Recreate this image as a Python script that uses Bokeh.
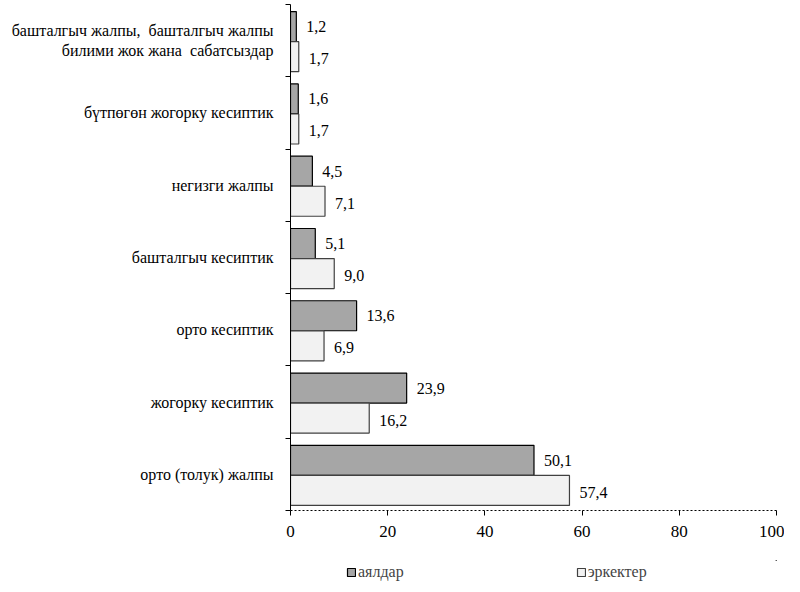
from bokeh.plotting import figure
from bokeh.layouts import column
from bokeh.models import (ColumnDataSource, LinearAxis, FixedTicker, Range1d,
                          LabelSet, Legend, LegendItem)
from bokeh.embed import file_html
from bokeh.resources import INLINE

categories = ["башталгыч жалпы,\u00a0 башталгыч жалпы\nбилими жок жана\u00a0 сабатсыздар",
              "бүтпөгөн жогорку кесиптик", "негизги жалпы", "башталгыч кесиптик",
              "орто кесиптик", "жогорку кесиптик", "орто (толук) жалпы"]
women = [1.2, 1.6, 4.5, 5.1, 13.6, 23.9, 50.1]
men = [1.7, 1.7, 7.1, 9.0, 6.9, 16.2, 57.4]
series_names = ["аялдар", "эркектер"]
x_ticks = [0, 20, 40, 60, 80, 100]

FONT = "Liberation Serif"
FS = "16px"
W_FILL, W_LINE = "#a6a6a6", "#000000"
M_FILL, M_LINE = "#f2f2f2", "#404040"
n = len(categories)
centers = [n - 1 - i + 0.5 for i in range(n)]

src_w = ColumnDataSource(dict(
    y=[c + 0.194 for c in centers], v=women,
    t=[f"{v:.1f}".replace(".", ",") for v in women]))
src_m = ColumnDataSource(dict(
    y=[c - 0.222 for c in centers], v=men,
    t=[f"{v:.1f}".replace(".", ",") for v in men]))

p = figure(frame_width=486, frame_height=506, output_backend="svg", toolbar_location=None,
           x_range=Range1d(0, 100), y_range=Range1d(0, n),
           min_border_left=290, min_border_right=8, min_border_top=4,
           min_border_bottom=50)
p.grid.visible = False
p.outline_line_color = None
p.background_fill_color = "white"

p.hbar(y="y", left=0, right="v", height=0.415, source=src_w,
       fill_color=W_FILL, line_color=W_LINE, line_width=1.2)
p.hbar(y="y", left=0, right="v", height=0.415, source=src_m,
       fill_color=M_FILL, line_color=M_LINE, line_width=1.2)

for s, yo in ((src_w, 0), (src_m, -2)):
    p.add_layout(LabelSet(x="v", y="y", text="t", source=s, x_offset=10, y_offset=yo,
                          text_align="left", text_baseline="middle",
                          text_font=FONT, text_font_size=FS, text_color="#000000"))

# x axis
xa = p.xaxis[0]
xa.ticker = FixedTicker(ticks=x_ticks)
xa.axis_line_dash = "2 2"
xa.axis_line_color = "#000000"
xa.major_tick_line_color = "#000000"
xa.major_tick_in = 0
xa.major_tick_out = 5
xa.minor_tick_line_color = None
xa.major_label_text_font = FONT
xa.major_label_text_font_size = "17px"
xa.major_label_text_color = "#000000"
xa.major_label_standoff = 10

# y axis with boundary ticks (no labels)
ya = p.yaxis[0]
ya.ticker = FixedTicker(ticks=list(range(n + 1)))
ya.major_label_text_color = None
ya.major_label_overrides = {i: "" for i in range(n + 1)}
ya.major_label_standoff = 0
ya.major_tick_in = 0
ya.major_tick_out = 5
ya.minor_tick_line_color = None
ya.axis_line_color = "#000000"
ya.major_tick_line_color = "#000000"

# category label axis
la = LinearAxis(ticker=FixedTicker(ticks=centers),
                major_label_overrides={c: lab for c, lab in zip(centers, categories)})
la.axis_line_color = None
la.major_tick_line_color = None
la.minor_tick_line_color = None
la.major_label_standoff = 6
la.major_label_text_font = FONT
la.major_label_text_font_size = FS
la.major_label_text_color = "#000000"
p.add_layout(la, "left")

# legend strip (separate small figure under the chart; its bars are out of view)
pl = figure(width=784, height=22, output_backend="svg", toolbar_location=None,
            x_range=Range1d(-1000, -900), y_range=Range1d(-10, -9),
            min_border=0, outline_line_color=None)
pl.axis.visible = False
pl.grid.visible = False
lw = pl.hbar(y="y", left=0, right="v", height=0.415, source=src_w,
             fill_color=W_FILL, line_color=W_LINE, line_width=1.2)
lm = pl.hbar(y="y", left=0, right="v", height=0.415, source=src_m,
             fill_color=M_FILL, line_color=M_LINE, line_width=1.2)
legend = Legend(items=[LegendItem(label=series_names[0], renderers=[lw]),
                       LegendItem(label=series_names[1], renderers=[lm])],
                orientation="horizontal", location=(56, 1), spacing=172,
                glyph_width=10, glyph_height=10, label_standoff=2,
                label_text_font=FONT, label_text_font_size=FS,
                border_line_color=None, background_fill_alpha=0,
                padding=0, margin=0)
pl.add_layout(legend, "center")

layout = column(p, pl, spacing=0)
open("out.html", "w").write(file_html(layout, INLINE))
